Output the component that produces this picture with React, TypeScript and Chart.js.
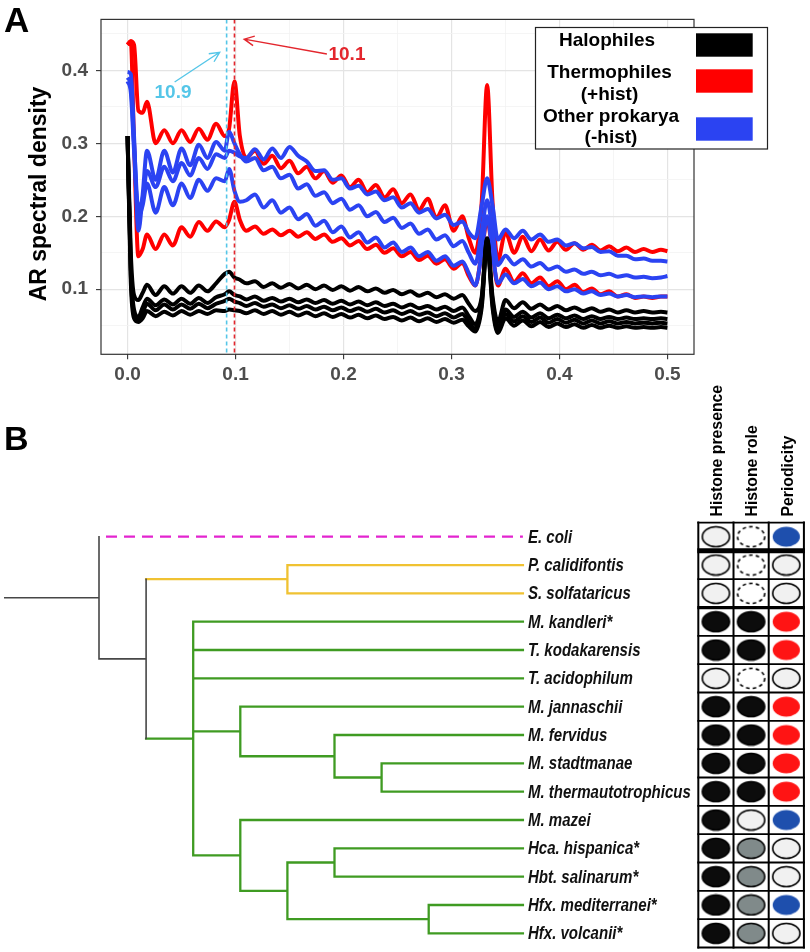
import { useEffect, useRef } from 'react';
import { Chart, registerables } from 'chart.js';

Chart.register(...registerables);
Chart.defaults.font.family = "'Liberation Sans', Arial, sans-serif";

// ---------- Panel A: AR spectral density ----------
const freq = [
  0.000, 0.003, 0.006, 0.010, 0.014, 0.018, 0.026, 0.034, 0.042, 0.050,
  0.058, 0.066, 0.074, 0.082, 0.090, 0.094, 0.099, 0.104, 0.110, 0.118,
  0.126, 0.134, 0.142, 0.150, 0.158, 0.166, 0.174, 0.182, 0.190, 0.198,
  0.206, 0.214, 0.222, 0.230, 0.238, 0.246, 0.254, 0.262, 0.270, 0.278,
  0.286, 0.294, 0.302, 0.310, 0.316, 0.322, 0.328, 0.333, 0.338, 0.343,
  0.350, 0.358, 0.366, 0.374, 0.382, 0.390, 0.398, 0.406, 0.414, 0.422,
  0.430, 0.438, 0.446, 0.454, 0.462, 0.470, 0.478, 0.486, 0.494, 0.500,
];

const halophile1 = [
  0.310, 0.150, 0.092, 0.085, 0.095, 0.106, 0.092, 0.104, 0.094, 0.104,
  0.095, 0.105, 0.097, 0.108, 0.121, 0.124, 0.116, 0.113, 0.108, 0.111,
  0.103, 0.108, 0.102, 0.107, 0.101, 0.106, 0.100, 0.105, 0.099, 0.104,
  0.098, 0.103, 0.097, 0.101, 0.095, 0.099, 0.093, 0.097, 0.091, 0.095,
  0.089, 0.093, 0.087, 0.092, 0.080, 0.070, 0.090, 0.170, 0.090, 0.055,
  0.085, 0.074, 0.082, 0.073, 0.079, 0.072, 0.077, 0.071, 0.075, 0.070,
  0.074, 0.069, 0.072, 0.068, 0.071, 0.068, 0.070, 0.068, 0.069, 0.068,
];
const halophile2 = [
  0.310, 0.130, 0.072, 0.062, 0.075, 0.087, 0.078, 0.086, 0.079, 0.087,
  0.080, 0.088, 0.081, 0.089, 0.093, 0.097, 0.092, 0.090, 0.086, 0.090,
  0.084, 0.088, 0.083, 0.087, 0.082, 0.086, 0.081, 0.085, 0.080, 0.084,
  0.079, 0.083, 0.078, 0.082, 0.077, 0.080, 0.075, 0.079, 0.074, 0.077,
  0.072, 0.076, 0.070, 0.075, 0.063, 0.052, 0.085, 0.168, 0.085, 0.047,
  0.072, 0.062, 0.069, 0.061, 0.067, 0.060, 0.065, 0.060, 0.064, 0.059,
  0.063, 0.059, 0.062, 0.059, 0.061, 0.059, 0.060, 0.059, 0.060, 0.059,
];
const halophile3 = [
  0.310, 0.120, 0.066, 0.058, 0.068, 0.080, 0.071, 0.079, 0.072, 0.079,
  0.073, 0.080, 0.074, 0.080, 0.084, 0.087, 0.083, 0.081, 0.077, 0.081,
  0.076, 0.079, 0.074, 0.078, 0.073, 0.077, 0.072, 0.076, 0.071, 0.075,
  0.070, 0.074, 0.069, 0.073, 0.068, 0.071, 0.066, 0.070, 0.065, 0.068,
  0.063, 0.067, 0.061, 0.066, 0.055, 0.046, 0.080, 0.166, 0.080, 0.043,
  0.066, 0.056, 0.063, 0.055, 0.061, 0.054, 0.059, 0.054, 0.058, 0.053,
  0.057, 0.053, 0.056, 0.053, 0.055, 0.053, 0.054, 0.053, 0.054, 0.053,
];
const halophile4 = [
  0.310, 0.110, 0.060, 0.055, 0.060, 0.070, 0.063, 0.069, 0.064, 0.070,
  0.065, 0.070, 0.066, 0.071, 0.070, 0.072, 0.071, 0.070, 0.067, 0.071,
  0.066, 0.070, 0.065, 0.069, 0.064, 0.068, 0.063, 0.067, 0.062, 0.066,
  0.061, 0.065, 0.060, 0.064, 0.059, 0.062, 0.057, 0.061, 0.056, 0.060,
  0.055, 0.059, 0.054, 0.058, 0.049, 0.042, 0.075, 0.163, 0.075, 0.040,
  0.060, 0.050, 0.057, 0.049, 0.055, 0.048, 0.053, 0.048, 0.052, 0.047,
  0.051, 0.047, 0.050, 0.047, 0.049, 0.047, 0.048, 0.047, 0.048, 0.047,
];
const thermophile1 = [
  0.435, 0.440, 0.435, 0.345, 0.342, 0.357, 0.300, 0.318, 0.300, 0.318,
  0.302, 0.320, 0.305, 0.327, 0.310, 0.320, 0.385, 0.310, 0.280, 0.290,
  0.272, 0.283, 0.266, 0.276, 0.259, 0.268, 0.252, 0.262, 0.246, 0.256,
  0.240, 0.250, 0.233, 0.243, 0.226, 0.237, 0.218, 0.230, 0.209, 0.224,
  0.198, 0.215, 0.180, 0.200, 0.170, 0.150, 0.220, 0.380, 0.220, 0.140,
  0.178, 0.150, 0.172, 0.152, 0.168, 0.153, 0.165, 0.154, 0.163, 0.154,
  0.161, 0.153, 0.159, 0.152, 0.157, 0.151, 0.155, 0.151, 0.154, 0.152,
];
const thermophile2 = [
  0.435, 0.440, 0.300, 0.145, 0.155, 0.175, 0.155, 0.175, 0.160, 0.185,
  0.172, 0.192, 0.180, 0.193, 0.185, 0.195, 0.220, 0.195, 0.180, 0.186,
  0.176, 0.182, 0.174, 0.180, 0.172, 0.178, 0.169, 0.175, 0.165, 0.170,
  0.160, 0.166, 0.155, 0.161, 0.150, 0.156, 0.145, 0.151, 0.140, 0.146,
  0.135, 0.141, 0.128, 0.136, 0.118, 0.105, 0.150, 0.195, 0.150, 0.105,
  0.128, 0.110, 0.122, 0.108, 0.116, 0.104, 0.111, 0.100, 0.106, 0.096,
  0.101, 0.093, 0.097, 0.090, 0.093, 0.088, 0.090, 0.088, 0.090, 0.090,
];
const otherProk1 = [
  0.398, 0.395, 0.310, 0.180, 0.230, 0.290, 0.250, 0.290, 0.260, 0.293,
  0.270, 0.298, 0.280, 0.302, 0.290, 0.316, 0.300, 0.285, 0.275, 0.280,
  0.263, 0.268, 0.252, 0.257, 0.238, 0.244, 0.228, 0.233, 0.218, 0.224,
  0.209, 0.215, 0.200, 0.206, 0.192, 0.198, 0.184, 0.190, 0.176, 0.182,
  0.168, 0.174, 0.159, 0.166, 0.150, 0.135, 0.180, 0.222, 0.180, 0.133,
  0.146, 0.134, 0.141, 0.131, 0.136, 0.127, 0.131, 0.124, 0.127, 0.121,
  0.124, 0.119, 0.121, 0.117, 0.119, 0.116, 0.117, 0.115, 0.116, 0.118,
];
const otherProk2 = [
  0.390, 0.380, 0.300, 0.210, 0.225, 0.262, 0.240, 0.268, 0.248, 0.273,
  0.256, 0.280, 0.265, 0.285, 0.280, 0.290, 0.287, 0.282, 0.280, 0.292,
  0.278, 0.293, 0.280, 0.295, 0.283, 0.275, 0.262, 0.263, 0.250, 0.252,
  0.238, 0.242, 0.230, 0.234, 0.222, 0.226, 0.212, 0.218, 0.205, 0.210,
  0.197, 0.202, 0.188, 0.193, 0.178, 0.170, 0.215, 0.252, 0.215, 0.168,
  0.182, 0.170, 0.180, 0.168, 0.175, 0.165, 0.168, 0.160, 0.163, 0.156,
  0.158, 0.151, 0.152, 0.146, 0.146, 0.141, 0.142, 0.139, 0.139, 0.138,
];
const otherProk3 = [
  0.385, 0.370, 0.290, 0.200, 0.215, 0.245, 0.205, 0.240, 0.215, 0.245,
  0.225, 0.250, 0.235, 0.252, 0.248, 0.265, 0.235, 0.220, 0.222, 0.230,
  0.212, 0.222, 0.205, 0.212, 0.196, 0.203, 0.187, 0.194, 0.178, 0.186,
  0.171, 0.178, 0.164, 0.171, 0.157, 0.164, 0.151, 0.157, 0.145, 0.151,
  0.139, 0.145, 0.132, 0.138, 0.122, 0.105, 0.150, 0.200, 0.150, 0.108,
  0.120, 0.108, 0.114, 0.104, 0.109, 0.100, 0.104, 0.097, 0.100, 0.094,
  0.097, 0.092, 0.094, 0.090, 0.092, 0.089, 0.090, 0.089, 0.090, 0.090,
];

const groupNames = [['Halophiles'], ['Thermophiles', '(+hist)'], ['Other prokarya', '(-hist)']];
const groupColors = ['#000000', '#ff0000', '#2b43f2'];

// dominant periods marked in the spectrum (bp)
const peakPeriods = [10.9, 10.1];
const peakColors = ['#55c6e8', '#e3262d'];

// ---------- Panel B: tree + table ----------
const species = [
  'E. coli', 'P. calidifontis', 'S. solfataricus', 'M. kandleri*', 'T. kodakarensis',
  'T. acidophilum', 'M. jannaschii', 'M. fervidus', 'M. stadtmanae', 'M. thermautotrophicus',
  'M. mazei', 'Hca. hispanica*', 'Hbt. salinarum*', 'Hfx. mediterranei*', 'Hfx. volcanii*',
];
const leafParent = ['root', 'cren', 'cren', 'eury', 'eury', 'eury', 'jann', 'ferv', 'stadt', 'stadt', 'mazei', 'hca', 'hca', 'hfx', 'hfx'];
const nodeIds = ['root', 'arch', 'cren', 'eury', 'jann', 'ferv', 'stadt', 'mazei', 'halo', 'hca', 'hfx'];
const nodeParent = ['', 'root', 'arch', 'arch', 'eury', 'jann', 'ferv', 'eury', 'mazei', 'halo', 'halo'];
const nodeDepth = [0, 1, 4, 2, 3, 5, 6, 3, 4, 5, 7];
const nodeClade = ['stem', 'stem', 'cren', 'eury', 'eury', 'eury', 'eury', 'eury', 'eury', 'eury', 'eury'];
const leafDepth = 9;
const stemDepth = -2;

const tableColumns = ['Histone presence', 'Histone role', 'Periodicity'];
const histonePresence = ['absent', 'absent', 'absent', 'present', 'present', 'absent', 'present', 'present', 'present', 'present', 'present', 'present', 'present', 'present', 'present'];
const histoneRole = ['none', 'none', 'none', 'essential', 'essential', 'none', 'essential', 'essential', 'essential', 'essential', 'nonessential', 'minor', 'minor', 'minor', 'minor'];
const periodicity = ['10.9', 'none', 'none', '10.1', '10.1', 'none', '10.1', '10.1', '10.1', '10.1', '10.9', 'none', 'none', '10.9', 'none'];

const cladeColors: Record<string, string> = { stem: '#474747', cren: '#f0c232', eury: '#3f9b22', outgroup: '#e324cf' };

const FONT = "'Liberation Sans', Arial, sans-serif";

function drawArrow(ctx: CanvasRenderingContext2D, x1: number, y1: number, x2: number, y2: number, color: string) {
  const a = Math.atan2(y2 - y1, x2 - x1);
  const h = 11;
  ctx.strokeStyle = color;
  ctx.lineWidth = 1.4;
  ctx.beginPath();
  ctx.moveTo(x1, y1);
  ctx.lineTo(x2, y2);
  ctx.moveTo(x2 - h * Math.cos(a - 0.45), y2 - h * Math.sin(a - 0.45));
  ctx.lineTo(x2, y2);
  ctx.lineTo(x2 - h * Math.cos(a + 0.45), y2 - h * Math.sin(a + 0.45));
  ctx.stroke();
}

function SpectrumChart() {
  const chartRef = useRef<HTMLCanvasElement>(null);
  const chartInstance = useRef<Chart | null>(null);

  useEffect(() => {
    if (!chartRef.current) return;
    if (chartInstance.current) chartInstance.current.destroy();

    const series = [
      { data: halophile1, color: groupColors[0] },
      { data: halophile2, color: groupColors[0] },
      { data: halophile3, color: groupColors[0] },
      { data: halophile4, color: groupColors[0] },
      { data: otherProk1, color: groupColors[2] },
      { data: otherProk2, color: groupColors[2] },
      { data: otherProk3, color: groupColors[2] },
      { data: thermophile1, color: groupColors[1] },
      { data: thermophile2, color: groupColors[1] },
    ];

    const isMajor = (v: number) => Math.abs(v * 10 - Math.round(v * 10)) < 1e-6;

    const decor = {
      id: 'decorA',
      afterDatasetsDraw(chart: any) {
        const { ctx, chartArea: a, scales: { x, y } } = chart;
        ctx.save();
        // dashed period lines
        peakPeriods.forEach((p, i) => {
          const px = x.getPixelForValue(1 / p);
          ctx.strokeStyle = peakColors[i];
          ctx.lineWidth = 1.6;
          ctx.setLineDash([4, 3]);
          ctx.beginPath();
          ctx.moveTo(px, a.top);
          ctx.lineTo(px, a.bottom);
          ctx.stroke();
        });
        ctx.setLineDash([]);
        // arrows with labels
        const tails = [[0.0436, 0.3841], [0.1846, 0.4226]];
        const heads = [[0.0853, 0.4249], [0.108, 0.4429]];
        const texts = [[0.0421, 0.369], [0.2032, 0.4219]];
        peakPeriods.forEach((p, i) => {
          drawArrow(ctx, x.getPixelForValue(tails[i][0]), y.getPixelForValue(tails[i][1]),
            x.getPixelForValue(heads[i][0]), y.getPixelForValue(heads[i][1]), peakColors[i]);
          ctx.fillStyle = peakColors[i];
          ctx.font = `bold 19px ${FONT}`;
          ctx.textAlign = 'center';
          ctx.textBaseline = 'middle';
          ctx.fillText(String(p), x.getPixelForValue(texts[i][0]), y.getPixelForValue(texts[i][1]));
        });
        // panel border
        ctx.strokeStyle = '#333333';
        ctx.lineWidth = 1.2;
        ctx.strokeRect(a.left, a.top, a.right - a.left, a.bottom - a.top);
        ctx.restore();
      },
      afterDraw(chart: any) {
        const { ctx } = chart;
        ctx.save();
        // legend
        ctx.fillStyle = '#ffffff';
        ctx.fillRect(535.5, 27.5, 232, 121.5);
        ctx.strokeStyle = '#222222';
        ctx.lineWidth = 1.2;
        ctx.strokeRect(535.5, 27.5, 232, 121.5);
        const textY = [[40.7], [72.7, 95], [116.7, 137.7]];
        const textX = [607, 609.5, 611];
        const swatchTop = [33.3, 69.3, 117.3];
        ctx.font = `bold 19px ${FONT}`;
        ctx.textAlign = 'center';
        ctx.textBaseline = 'middle';
        groupNames.forEach((lines, i) => {
          ctx.fillStyle = '#000000';
          lines.forEach((t, j) => ctx.fillText(t, textX[i], textY[i][j]));
          ctx.fillStyle = groupColors[i];
          ctx.fillRect(696, swatchTop[i], 56.7, 23.4);
        });
        // y title
        ctx.save();
        ctx.translate(40, 194);
        ctx.rotate(-Math.PI / 2);
        ctx.fillStyle = '#000000';
        ctx.font = `bold 23px ${FONT}`;
        ctx.fillText('AR spectral density', 0, 0);
        ctx.restore();
        // panel letter
        ctx.fillStyle = '#000000';
        ctx.font = `bold 35px ${FONT}`;
        ctx.textAlign = 'left';
        ctx.textBaseline = 'alphabetic';
        ctx.fillText('A', 4, 32);
        ctx.restore();
      },
    };

    chartInstance.current = new Chart(chartRef.current, {
      type: 'line',
      data: {
        datasets: series.map(s => ({
          data: freq.map((f, i) => ({ x: f, y: s.data[i] })),
          borderColor: s.color,
          backgroundColor: s.color,
          borderWidth: 4,
          borderJoinStyle: 'round',
          pointRadius: 0,
          cubicInterpolationMode: 'monotone' as const,
          fill: false,
        })),
      },
      options: {
        animation: false,
        responsive: false,
        events: [],
        layout: { autoPadding: false, padding: { left: 0, right: 116, top: 15, bottom: 0 } },
        plugins: { legend: { display: false }, tooltip: { enabled: false } },
        scales: {
          x: {
            type: 'linear',
            min: -0.0246,
            max: 0.5246,
            afterFit: (s: any) => { s.height = 45.7; },
            border: { display: false },
            grid: {
              color: (c: any) => (c.tick && isMajor(c.tick.value) ? '#e4e4e4' : '#f2f2f2'),
              lineWidth: (c: any) => (c.tick && isMajor(c.tick.value) ? 1.2 : 0.8),
              tickColor: (c: any) => (c.tick && isMajor(c.tick.value) ? '#333333' : 'rgba(0,0,0,0)'),
              tickLength: 5,
              tickWidth: 1.1,
            },
            ticks: {
              stepSize: 0.05,
              includeBounds: false,
              autoSkip: false,
              maxRotation: 0,
              padding: 4,
              color: '#4d4d4d',
              font: { size: 19, weight: 'bold' },
              callback: (v: any) => (isMajor(Number(v)) ? Number(v).toFixed(1) : ''),
            },
          },
          y: {
            type: 'linear',
            min: 0.0107,
            max: 0.47,
            afterFit: (s: any) => { s.width = 101; },
            border: { display: false },
            grid: {
              color: (c: any) => (c.tick && isMajor(c.tick.value) ? '#e4e4e4' : '#f2f2f2'),
              lineWidth: (c: any) => (c.tick && isMajor(c.tick.value) ? 1.2 : 0.8),
              tickColor: (c: any) => (c.tick && isMajor(c.tick.value) ? '#333333' : 'rgba(0,0,0,0)'),
              tickLength: 5,
              tickWidth: 1.1,
            },
            ticks: {
              stepSize: 0.05,
              includeBounds: false,
              autoSkip: false,
              padding: 8,
              color: '#4d4d4d',
              font: { size: 19, weight: 'bold' },
              callback: (v: any) => (isMajor(Number(v)) ? Number(v).toFixed(1) : ''),
            },
          },
        },
      },
      plugins: [decor],
    } as any);

    return () => {
      if (chartInstance.current) {
        chartInstance.current.destroy();
        chartInstance.current = null;
      }
    };
  }, []);

  return (
    <canvas ref={chartRef} width={810} height={400}
      style={{ position: 'absolute', left: 0, top: 0, width: 810, height: 400 }} />
  );
}

function ellipseImage(fill: string | null, stroke: string | null, dashed: boolean) {
  const c = document.createElement('canvas');
  c.width = 31;
  c.height = 23;
  const g = c.getContext('2d')!;
  g.beginPath();
  g.ellipse(15.5, 11.5, 13.6, 10, 0, 0, Math.PI * 2);
  if (fill) {
    g.fillStyle = fill;
    g.fill();
  }
  if (stroke) {
    g.lineWidth = 1.6;
    g.setLineDash(dashed ? [3.5, 3.2] : []);
    g.strokeStyle = stroke;
    g.stroke();
  }
  return c;
}

function TreeChart() {
  const chartRef = useRef<HTMLCanvasElement>(null);
  const chartInstance = useRef<Chart | null>(null);

  useEffect(() => {
    if (!chartRef.current) return;
    if (chartInstance.current) chartInstance.current.destroy();

    // node rows = midpoint of outermost children
    const nodeY: Record<string, number> = {};
    const span: Record<string, [number, number]> = {};
    const yOf = (id: string): number => {
      if (id in nodeY) return nodeY[id];
      const ys: number[] = [];
      leafParent.forEach((p, i) => { if (p === id) ys.push(i); });
      nodeIds.forEach((n, j) => { if (nodeParent[j] === id) ys.push(yOf(n)); });
      span[id] = [Math.min(...ys), Math.max(...ys)];
      nodeY[id] = (span[id][0] + span[id][1]) / 2;
      return nodeY[id];
    };
    nodeIds.forEach(yOf);
    const depthOf = (id: string) => nodeDepth[nodeIds.indexOf(id)];
    const cladeOf = (id: string) => nodeClade[nodeIds.indexOf(id)];

    const segs: Record<string, { x: number; y: number | null }[]> = { stem: [], cren: [], eury: [], outgroup: [] };
    const seg = (clade: string, x1: number, y1: number, x2: number, y2: number) => {
      segs[clade].push({ x: x1, y: y1 }, { x: x2, y: y2 }, { x: x2, y: null });
    };
    seg('stem', stemDepth, nodeY.root, 0, nodeY.root);
    nodeIds.forEach((id, j) => {
      const c = nodeClade[j];
      if (nodeParent[j]) seg(c, depthOf(nodeParent[j]), nodeY[id], nodeDepth[j], nodeY[id]);
      seg(c, nodeDepth[j], span[id][0], nodeDepth[j], span[id][1]);
    });
    leafParent.forEach((p, i) => {
      const c = p === 'root' ? 'outgroup' : cladeOf(p);
      seg(c, depthOf(p), i, leafDepth, i);
    });

    const treeSets = Object.keys(segs).map(c => ({
      data: segs[c],
      xAxisID: 'x',
      showLine: true,
      spanGaps: false,
      borderColor: cladeColors[c],
      borderWidth: c === 'stem' ? 1.6 : 2.3,
      borderDash: c === 'outgroup' ? [11, 7] : [],
      borderDashOffset: c === 'outgroup' ? 11 : 0,
      borderCapStyle: c === 'outgroup' ? 'butt' : 'square',
      pointRadius: 0,
    }));

    const styles: Record<string, HTMLCanvasElement> = {
      empty: ellipseImage('#f1f1f1', '#000000', false),
      dashed: ellipseImage('#ffffff', '#000000', true),
      black: ellipseImage('#0c0c0c', '#000000', false),
      grey: ellipseImage('#808a8a', '#000000', false),
      red: ellipseImage('#ff1414', null, false),
      blue: ellipseImage('#1e4fad', null, false),
    };
    const styleMap: Record<string, string>[] = [
      { absent: 'empty', present: 'black' },
      { none: 'dashed', essential: 'black', nonessential: 'empty', minor: 'grey' },
      { none: 'empty', '10.1': 'red', '10.9': 'blue' },
    ];
    const columns = [histonePresence, histoneRole, periodicity];
    const cellSets = Object.keys(styles).map(st => {
      const pts: { x: number; y: number }[] = [];
      columns.forEach((col, c) => col.forEach((v, r) => { if (styleMap[c][v] === st) pts.push({ x: c, y: r }); }));
      return {
        data: pts,
        xAxisID: 'xt',
        showLine: false,
        pointStyle: styles[st],
        pointRadius: 10,
        pointHoverRadius: 10,
      };
    });

    const decor = {
      id: 'decorB',
      beforeDatasetsDraw(chart: any) {
        const { ctx, scales } = chart;
        const xs = scales.xt, ys = scales.y;
        const left = xs.getPixelForValue(-0.5), right = xs.getPixelForValue(tableColumns.length - 0.5);
        const top = ys.getPixelForValue(-0.5), bottom = ys.getPixelForValue(species.length - 0.5);
        ctx.save();
        ctx.strokeStyle = '#000000';
        for (let c = 0; c <= tableColumns.length; c++) {
          const px = xs.getPixelForValue(c - 0.5);
          ctx.lineWidth = 2;
          ctx.beginPath();
          ctx.moveTo(px, top - 1);
          ctx.lineTo(px, bottom + 1);
          ctx.stroke();
        }
        for (let r = 0; r <= species.length; r++) {
          const py = ys.getPixelForValue(r - 0.5);
          ctx.lineWidth = r === 1 ? 5 : r === 3 ? 3.3 : 1.8;
          ctx.beginPath();
          ctx.moveTo(left - 1, py);
          ctx.lineTo(right + 1, py);
          ctx.stroke();
        }
        ctx.restore();
      },
      afterDatasetsDraw(chart: any) {
        const { ctx, scales } = chart;
        const xs = scales.xt, ys = scales.y, xTree = scales.x;
        ctx.save();
        // column headers
        ctx.fillStyle = '#000000';
        ctx.font = `bold 15.8px ${FONT}`;
        ctx.textAlign = 'left';
        ctx.textBaseline = 'middle';
        const top = ys.getPixelForValue(-0.5);
        tableColumns.forEach((t, c) => {
          ctx.save();
          ctx.translate(xs.getPixelForValue(c) + 2, top - 6);
          ctx.rotate(-Math.PI / 2);
          ctx.fillText(t, 0, 0);
          ctx.restore();
        });
        // species labels
        ctx.font = `italic bold 18px 'Liberation Sans Narrow', ${FONT}`;
        const w = ctx.measureText('M. thermautotrophicus').width;
        const sx = Math.min(1, 163 / w);
        ctx.fillStyle = '#111111';
        species.forEach((s, i) => {
          ctx.save();
          ctx.translate(xTree.getPixelForValue(leafDepth) + 5, ys.getPixelForValue(i) + 1);
          ctx.scale(sx, 1);
          ctx.fillText(s, 0, 0);
          ctx.restore();
        });
        // panel letter
        ctx.font = `bold 34px ${FONT}`;
        ctx.textBaseline = 'alphabetic';
        ctx.fillStyle = '#000000';
        ctx.fillText('B', 4, 70);
        ctx.restore();
      },
    };

    chartInstance.current = new Chart(chartRef.current, {
      type: 'scatter',
      data: { datasets: [...treeSets, ...cellSets] },
      options: {
        animation: false,
        responsive: false,
        events: [],
        layout: { autoPadding: false, padding: 0 },
        plugins: { legend: { display: false }, tooltip: { enabled: false } },
        scales: {
          x: { type: 'linear', display: false, min: -2.1019, max: 15.0955 },
          xt: { type: 'linear', display: false, min: -20.338, max: 2.673 },
          y: { type: 'linear', display: false, reverse: true, min: -5.531, max: 14.659 },
        },
      },
      plugins: [decor],
    } as any);

    return () => {
      if (chartInstance.current) {
        chartInstance.current.destroy();
        chartInstance.current = null;
      }
    };
  }, []);

  return (
    <canvas ref={chartRef} width={810} height={572}
      style={{ position: 'absolute', left: 0, top: 380, width: 810, height: 572 }} />
  );
}

export default function App() {
  return (
    <div style={{ position: 'absolute', left: 0, top: 0, width: 810, height: 952, background: '#ffffff', overflow: 'hidden' }}>
      <SpectrumChart />
      <TreeChart />
    </div>
  );
}
